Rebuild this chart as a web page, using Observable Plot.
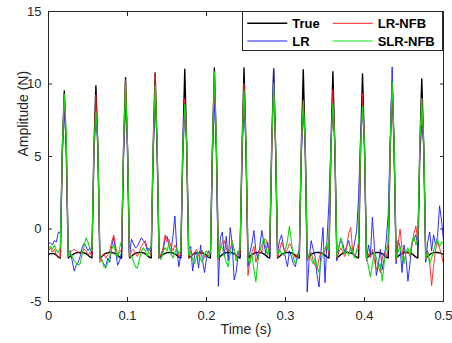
<!DOCTYPE html>
<html>
<head>
<meta charset="utf-8">
<script src="https://cdn.jsdelivr.net/npm/d3@7"></script>
<script src="https://cdn.jsdelivr.net/npm/@observablehq/plot@0.6"></script>
<style>
  html, body { margin: 0; padding: 0; background: #fff; }
  #fig { position: relative; width: 452px; height: 343px; font-family: "Liberation Sans", Arial, Helvetica, sans-serif; }
  #fig > svg.plot { position: absolute; left: 0; top: 0; }
  #legend { position: absolute; left: 242px; top: 11px; width: 201px; height: 40px; box-sizing: border-box; border: 1px solid #262626; background: #fff; }
  #legend svg { position: absolute; left: -1px; top: -1px; }
</style>
</head>
<body>
<div id="fig"></div>
<script>
// sampling interval of the recorded signals (s)
const sampleStep = 0.0025;

// True force signal (N), one value per sample, t = 0 ... 0.5 s
const trueForce = [
  -1.75,-1.70,-1.68,-1.70,-1.80,-1.95,
  -2.0,5.5,9.52,5.5,-2.0,
  -1.9,-1.78,-1.7,-1.65,-1.62,-1.61,-1.62,-1.65,-1.7,-1.8,-1.93,
  -2.0,5.5,9.88,5.5,-2.0,  -1.9,-1.76,-1.68,-1.63,-1.61,-1.62,-1.65,-1.71,-1.82,-1.94,
  -2.0,5.5,10.43,5.5,-2.0, -1.9,-1.76,-1.68,-1.63,-1.61,-1.62,-1.65,-1.71,-1.82,-1.94,
  -2.0,5.5,10.77,5.5,-2.0, -1.9,-1.76,-1.68,-1.63,-1.61,-1.62,-1.65,-1.71,-1.82,-1.94,
  -2.0,5.5,11.02,5.5,-2.0, -1.9,-1.76,-1.68,-1.63,-1.61,-1.62,-1.65,-1.71,-1.82,-1.94,
  -2.0,5.5,11.1,5.5,-2.0,  -1.9,-1.76,-1.68,-1.63,-1.61,-1.62,-1.65,-1.71,-1.82,-1.94,
  -2.0,5.5,11.1,5.5,-2.0,  -1.9,-1.76,-1.68,-1.63,-1.61,-1.62,-1.65,-1.71,-1.82,-1.94,
  -2.0,5.5,11.0,5.5,-2.0,  -1.9,-1.76,-1.68,-1.63,-1.61,-1.62,-1.65,-1.71,-1.82,-1.94,
  -2.0,5.5,10.98,5.5,-2.0, -1.9,-1.76,-1.68,-1.63,-1.61,-1.62,-1.65,-1.71,-1.82,-1.94,
  -2.0,5.5,10.84,5.5,-2.0, -1.9,-1.76,-1.68,-1.63,-1.61,-1.62,-1.65,-1.71,-1.82,-1.94,
  -2.0,5.5,10.7,5.5,-2.0,  -1.9,-1.76,-1.68,-1.63,-1.61,-1.62,-1.65,-1.71,-1.82,-1.94,
  -2.0,5.5,10.1,5.5,-2.0,  -1.9,-1.76,-1.68,-1.63,-1.61,-1.62,-1.65,-1.71,-1.82,-1.94,
  -2.0,5.5,10.34,5.5,-2.0,
  -1.9,-1.76,-1.68,-1.63,-1.61,-1.62,-1.65,-1.7,-1.75
];

// LR estimate (N)
const lrForce = [
  -1.0,-0.95,-1.1,-0.8,-0.9,-0.2,-0.3,
  5.0,8.2,5.8,
  -1.6,-1.5,-2.2,-2.9,-2.5,-2.3,-1.9,-1.3,-1.0,-1.2,-1.5,-1.3,-1.8,
  5.0,7.8,5.8,   -1.9,-2.2,-2.4,-2.6,-2.0,-2.3,-1.2,-0.6,-1.5,-2.5,-2.2,-1.6,
  5.0,8.3,5.8,   -1.9,-0.7,-1.0,-1.3,-1.2,-0.9,-0.6,-0.8,-1.0,-1.5,-1.3,-1.6,
  5.0,9.0,5.8,   -1.7,-1.9,-1.5,-0.7,-0.5,-1.1,-1.6,-0.5,0.9,-1.5,-2.6,-1.8,
  5.0,8.0,5.8,   -1.4,-1.2,-2.9,-1.8,-1.6,-2.7,-1.1,-2.2,-3.0,-2.0,-1.5,-1.8,
  5.0,8.6,5.8,   -3.95,-0.6,-0.2,-1.9,-0.5,-2.2,0.1,-1.0,-3.5,-3.0,-1.8,-1.2,
  5.0,8.5,5.8,   -2.6,-1.6,-1.0,-0.1,-1.5,-2.1,-1.2,-0.1,-0.9,-1.7,-0.9,-1.9,
  5.5,11.1,5.5,  -1.6,-0.8,-0.4,-1.2,-2.0,-2.6,-1.5,-1.9,-2.4,-2.6,-1.9,-1.4,
  5.0,8.0,5.8,   -4.35,-2.0,-0.8,-1.4,-1.9,-3.2,-4.0,-1.5,0.1,-3.7,-0.8,1.8,
  6.0,8.2,5.8,   -2.2,-1.3,-0.7,-1.0,-1.6,-1.2,-0.8,-1.4,-1.7,-0.9,-0.2,2.2,
  6.5,8.0,5.8,   -2.2,-1.1,-1.8,0.8,-1.2,-3.2,-2.5,-1.4,-2.8,-2.0,-0.8,1.0,
  6.0,11.18,5.5, -2.4,-0.8,-1.2,-3.0,-1.1,-2.0,-3.6,-2.4,-1.0,-0.7,-0.4,-1.2,
  5.0,7.2,5.8,
  -2.3,-0.9,-0.2,-1.5,-0.4,-1.1,-0.5,1.6,0.6,-0.8
];

// LR-NFB estimate (N)
const lrNfbForce = [
  -1.5,-1.3,-1.6,-1.4,-1.8,-1.9,-2.0,
  5.3,9.3,5.8,
  -1.9,-1.6,-1.5,-1.4,-1.5,-1.6,-1.7,-1.6,-1.4,-1.5,-1.8,-1.6,-1.9,
  5.3,9.25,5.8,  -2.3,-1.9,-1.7,-2.0,-1.8,-1.5,-0.9,-0.4,-1.2,-1.8,-1.6,-1.4,
  5.3,10.3,5.8,  -2.0,-1.5,-1.4,-1.7,-1.9,-1.6,-1.2,-1.0,-0.8,-1.3,-1.7,-1.8,
  5.3,10.7,5.8,  -2.0,-1.7,-1.3,-0.4,-0.9,-0.7,-1.2,-1.5,-1.1,-1.4,-1.9,-1.7,
  5.3,9.0,5.8,   -2.0,-1.5,-1.8,-1.6,-1.4,-1.9,-1.7,-1.5,-2.0,-1.8,-1.6,-1.7,
  5.3,10.5,5.8,  -2.1,-1.4,-0.9,-0.8,-1.3,-1.6,-1.4,-0.8,-1.5,-1.9,-1.5,-1.7,
  5.3,10.04,5.8, -3.2,-2.2,-1.6,-1.2,-2.3,-1.8,-1.3,-1.6,-0.8,-0.7,-1.2,-1.6,
  5.3,9.9,5.8,   -2.0,-1.5,-0.9,-1.3,-1.6,-1.4,-1.0,-1.2,-1.7,-2.0,-1.7,-1.8,
  5.3,8.9,5.8,   -2.2,-1.8,-1.6,-2.2,-2.5,-2.8,-2.0,-1.6,-1.8,-1.5,-1.2,-1.7,
  5.3,9.6,5.8,   -2.0,-1.6,-1.3,-1.6,-1.9,-1.2,-0.3,0.1,-1.5,-1.9,-1.6,-1.4,
  5.3,9.36,5.8,  -2.1,-1.7,-2.0,-1.4,-2.2,-2.8,-2.5,-3.0,-2.0,-1.6,-1.9,-1.5,
  5.3,10.0,5.8,  -2.2,-1.1,0.0,-1.4,-2.2,-1.7,-1.5,-1.9,-1.2,-0.3,0.2,-0.9,
  5.3,9.0,5.8,
  -2.1,-1.5,-2.3,-3.9,-2.5,-1.4,-0.9,-1.3,-1.8,-2.4
];

// SLR-NFB estimate (N)
const slrNfbForce = [
  -1.3,-1.2,-1.4,-1.1,-1.5,-1.6,-1.3,
  5.6,9.3,6.6,
  -1.9,-1.7,-1.9,-2.2,-2.3,-2.5,-2.4,-1.8,-1.2,-0.6,-0.9,-1.4,-1.5,
  5.8,8.1,6.0,   -1.9,-2.1,-2.6,-2.7,-2.3,-1.9,-1.4,-1.1,-1.6,-2.0,-1.3,-0.8,
  5.8,9.9,6.0,   -1.8,-1.9,-2.2,-2.6,-2.7,-2.1,-1.6,-1.3,-1.5,-1.9,-1.4,-1.2,
  5.8,9.9,6.0,   -1.9,-2.1,-1.6,-1.3,-1.5,-1.0,-1.7,-2.0,-1.6,-1.3,-1.7,-1.5,
  5.8,8.6,6.0,   -1.8,-1.6,-2.1,-2.4,-1.9,-1.6,-2.1,-2.3,-1.7,-1.5,-1.9,-1.6,
  5.8,10.84,6.0, -2.0,-1.2,-1.3,-1.8,-2.3,-2.6,-1.7,-0.9,-1.4,-2.2,-1.6,-1.4,
  5.8,9.6,6.0,   -2.0,-2.4,-1.7,-2.8,-3.65,-2.2,-1.5,-1.1,-0.6,-1.3,-1.8,-1.2,
  5.8,10.04,6.0, -1.8,-1.4,-1.7,-1.8,-1.4,-0.8,0.2,-0.9,-2.0,-2.4,-2.1,-1.6,
  5.8,8.8,6.0,   -2.0,-1.7,-2.1,-2.4,-2.0,-2.6,-3.0,-2.2,-1.6,-1.4,-1.0,-1.5,
  5.8,8.67,6.0,  -1.9,-1.2,-0.6,-1.3,-1.7,-1.5,-1.8,-1.2,-1.6,-2.0,-1.5,-0.9,
  5.8,8.45,6.0,  -1.9,-2.6,-3.3,-2.4,-1.6,-2.0,-2.7,-2.4,-3.6,-2.3,-1.4,-1.0,
  5.8,10.16,6.0, -2.0,-1.6,-1.2,-1.9,-2.4,-1.6,-1.3,-1.8,-0.9,-0.5,-1.1,-0.7,
  5.8,9.0,6.0,
  -2.0,-1.6,-2.4,-2.0,-1.5,-1.0,-0.7,-1.2,-0.9,-1.0
];

const seriesNames = ["True", "LR", "LR-NFB", "SLR-NFB"];
const seriesColors = ["#000000", "#1a1aff", "#ff2020", "#14d814"];
const seriesWidths = [1.4, 0.9, 0.9, 1.1];
const seriesValues = [trueForce, lrForce, lrNfbForce, slrNfbForce];

const xTicks = [0, 0.1, 0.2, 0.3, 0.4, 0.5];
const yTicks = [-5, 0, 5, 10, 15];
const xLabel = "Time (s)";
const yLabel = "Amplitude (N)";

const axisColor = "#262626";

const rows = seriesValues.map(vals => vals.map((v, i) => ({t: i * sampleStep, v})));

const plot = Plot.plot({
  width: 452,
  height: 343,
  marginLeft: 48,
  marginRight: 9,
  marginTop: 11,
  marginBottom: 42,
  style: {fontFamily: '"Liberation Sans", Arial, Helvetica, sans-serif', fontSize: "13px", color: axisColor, background: "#fff"},
  x: {domain: [0, 0.5]},
  y: {domain: [-5, 15]},
  marks: [
    ...rows.map((r, k) => Plot.line(r, {x: "t", y: "v", stroke: seriesColors[k], strokeWidth: seriesWidths[k], clip: true})),
    Plot.frame({stroke: axisColor, strokeWidth: 1}),
    Plot.axisX(xTicks, {anchor: "bottom", tickSize: -4, tickPadding: 13, tickFormat: d => String(d), label: null, stroke: axisColor, fontSize: 13}),
    Plot.axisX(xTicks, {anchor: "top", tickSize: -4, tickFormat: () => "", label: null, stroke: axisColor}),
    Plot.axisY(yTicks, {anchor: "left", tickSize: -4, tickPadding: 11, tickFormat: d => String(d), label: null, stroke: axisColor, fontSize: 13}),
    Plot.axisY(yTicks, {anchor: "right", tickSize: -4, tickFormat: () => "", label: null, stroke: axisColor}),
    Plot.text([xLabel], {frameAnchor: "bottom", dy: 32, text: d => d, fontSize: 14, fill: axisColor}),
    Plot.text([yLabel], {frameAnchor: "left", dx: -25, rotate: -90, text: d => d, fontSize: 14, fill: axisColor})
  ]
});

const fig = document.getElementById("fig");
fig.appendChild(plot);

// legend (two columns: True / LR, then LR-NFB / SLR-NFB)
const legend = document.createElement("div");
legend.id = "legend";
const ns = "http://www.w3.org/2000/svg";
const lsvg = document.createElementNS(ns, "svg");
lsvg.setAttribute("width", 201);
lsvg.setAttribute("height", 40);
const cols = [5.3, 90.7];
const rowsY = [12.3, 30];
seriesNames.forEach((name, k) => {
  const c = Math.floor(k / 2), r = k % 2;
  const ln = document.createElementNS(ns, "line");
  ln.setAttribute("x1", cols[c]);
  ln.setAttribute("x2", cols[c] + 40);
  ln.setAttribute("y1", rowsY[r]);
  ln.setAttribute("y2", rowsY[r]);
  ln.setAttribute("stroke", seriesColors[k]);
  ln.setAttribute("stroke-width", k === 0 ? 1.6 : 1);
  lsvg.appendChild(ln);
  const tx = document.createElementNS(ns, "text");
  tx.setAttribute("x", cols[c] + 45);
  tx.setAttribute("y", rowsY[r]);
  tx.setAttribute("dy", "0.35em");
  tx.setAttribute("font-size", "13px");
  tx.setAttribute("font-weight", "bold");
  tx.setAttribute("font-family", '"Liberation Sans", Arial, Helvetica, sans-serif');
  tx.setAttribute("fill", "#000");
  tx.textContent = name;
  lsvg.appendChild(tx);
});
legend.appendChild(lsvg);
fig.appendChild(legend);
</script>
</body>
</html>
